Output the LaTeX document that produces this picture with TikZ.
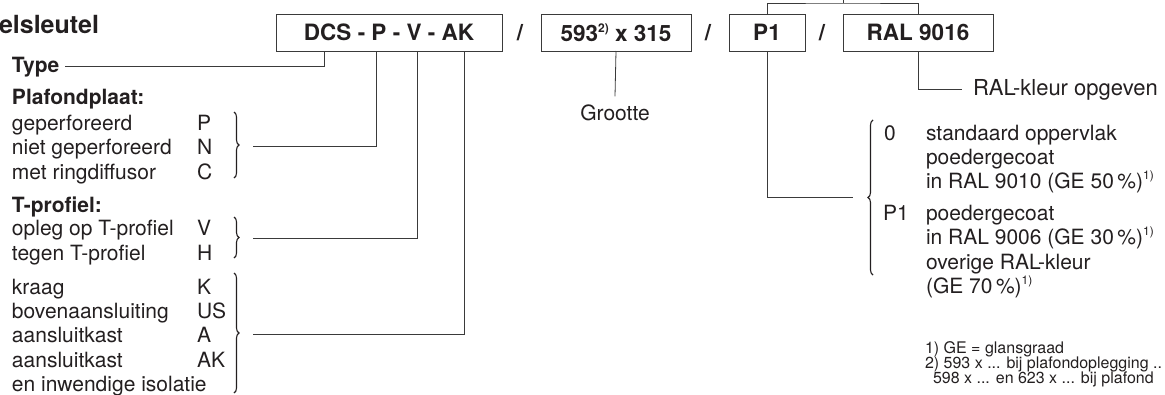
\documentclass[tikz,border=0pt]{standalone}
\usepackage{fontspec}
\setmainfont{TeX Gyre Heros}
\usetikzlibrary{decorations.pathreplacing}
\definecolor{ink}{HTML}{231F20}
\definecolor{rulec}{HTML}{3A3A3A}
\newcommand\fnsup[1]{\raisebox{0.42em}{\fontsize{12}{12}\selectfont #1}}
\begin{document}
\begin{tikzpicture}[x=1pt,y=-1pt,
  every node/.style={inner sep=0pt, outer sep=0pt, text=ink, font=\fontsize{21}{24}\selectfont},
  codebox/.style={draw=rulec, line width=0.8pt, minimum height=37pt, font=\fontsize{22.5}{24}\selectfont\bfseries},
  slash/.style={font=\fontsize{22.5}{24}\selectfont\bfseries},
  txt/.style={anchor=base west},
  head/.style={anchor=base west, font=\fontsize{21}{24}\selectfont\bfseries},
  small/.style={anchor=base west, font=\fontsize{16}{18}\selectfont},
  conn/.style={draw=rulec, line width=0.8pt},
  bracedeco/.style={draw=ink, line width=1.1pt, decorate, decoration={brace, amplitude=5pt}}]
\useasboundingbox (0,0) rectangle (1165,394);

% title
\node[anchor=base west, font=\fontsize{25}{28}\selectfont\bfseries] (title) at (-1,33) {elsleutel};

% code boxes
\node[codebox, minimum width=226pt] (box1) at (389,32.5) {DCS - P - V - AK};
\node[slash] (s1) at (520,32.5) {/};
\node[codebox, minimum width=150pt] (box2) at (616,32.5) {593\fnsup{2)} x 315};
\node[slash] (s2) at (708,32.5) {/};
\node[codebox, minimum width=76pt] (box3) at (767,32.5) {P1};
\node[slash] (s3) at (822,32.5) {/};
\node[codebox, minimum width=150pt] (box4) at (918,32.5) {RAL 9016};

% left column
\node[head] (ttype) at (12,72) {Type};
\node[head] (tplaf) at (12,104) {Plafondplaat:};
\node[txt] (l1) at (12,130) {geperforeerd};       \node[txt] (c1) at (197,130) {P};
\node[txt] (l2) at (12,154) {niet geperforeerd};  \node[txt] (c2) at (197,154) {N};
\node[txt] (l3) at (12,179) {met ringdiffusor};   \node[txt] (c3) at (197,179) {C};
\node[head] (tprof) at (12,212) {T-profiel:};
\node[txt] (l4) at (12,235) {opleg op T-profiel}; \node[txt] (c4) at (197,235) {V};
\node[txt] (l5) at (12,260) {tegen T-profiel};    \node[txt] (c5) at (197,260) {H};
\node[txt] (l6) at (12,294) {kraag};              \node[txt] (c6) at (197,294) {K};
\node[txt] (l7) at (12,318) {bovenaansluiting};   \node[txt] (c7) at (197,318) {US};
\node[txt] (l8) at (12,342) {aansluitkast};       \node[txt] (c8) at (197,342) {A};
\node[txt] (l9) at (12,367) {aansluitkast};       \node[txt] (c9) at (197,367) {AK};
\node[txt] (l10) at (12,391) {en inwendige isolatie};

% left braces
\draw[bracedeco] (234,112) -- (234,178);
\draw[bracedeco] (234,217) -- (234,258);
\draw[bracedeco] (234,273) -- (234,393);
\coordinate (b1tip) at (253,146);
\coordinate (b2tip) at (253,238);
\coordinate (b3tip) at (253,334);

% connectors from box1
\draw[conn] ([xshift=6pt]ttype.east) -| ([xshift=-65pt]box1.south);
\draw[conn] ([xshift=-13pt]box1.south) |- (b1tip);
\draw[conn] ([xshift=28pt]box1.south) |- (b2tip);
\draw[conn] ([xshift=75pt]box1.south) |- (b3tip);

% Grootte
\node[anchor=base] (groot) at (615,120) {Grootte};
\draw[conn] (box2.south) -- ([yshift=8pt]groot.north);

% top bracket P1 / RAL
\coordinate (tb) at (843,3);
\draw[conn] (box3.north) |- (tb) -| (box4.north);
\draw[conn] (tb) -- ++(0,-6);

% RAL colour
\node[anchor=base west, font=\fontsize{22}{24}\selectfont] (ralk) at (973,95) {RAL-kleur opgeven};
\draw[conn] (box4.south) |- ([xshift=-11pt]ralk.west);

% right column
\draw[bracedeco] (873,275) -- (873,120);
\coordinate (b4tip) at (853,197);
\draw[conn] (box3.south) |- (b4tip);

\node[txt] (r0) at (884,140) {0};
\node[txt] (r1) at (926,140) {standaard oppervlak};
\node[txt] (r2) at (926,164) {poedergecoat};
\node[txt] (r3) at (926,188) {in RAL 9010 (GE 50\,\%)\fnsup{1)}};
\node[txt] (rp) at (883,220) {P1};
\node[txt] (r4) at (926,220) {poedergecoat};
\node[txt] (r5) at (926,244) {in RAL 9006 (GE 30\,\%)\fnsup{1)}};
\node[txt] (r6) at (926,269) {overige RAL-kleur};
\node[txt] (r7) at (926,293) {(GE 70\,\%)\fnsup{1)}};

% footnotes
\node[small] (f1) at (925,353) {1) GE = glansgraad};
\node[small] (f2) at (925,368) {2) 593 x ... bij plafondoplegging ..};
\node[small] (f3) at (933,383) {598 x ... en 623 x ... bij plafond};
\end{tikzpicture}
\end{document}
